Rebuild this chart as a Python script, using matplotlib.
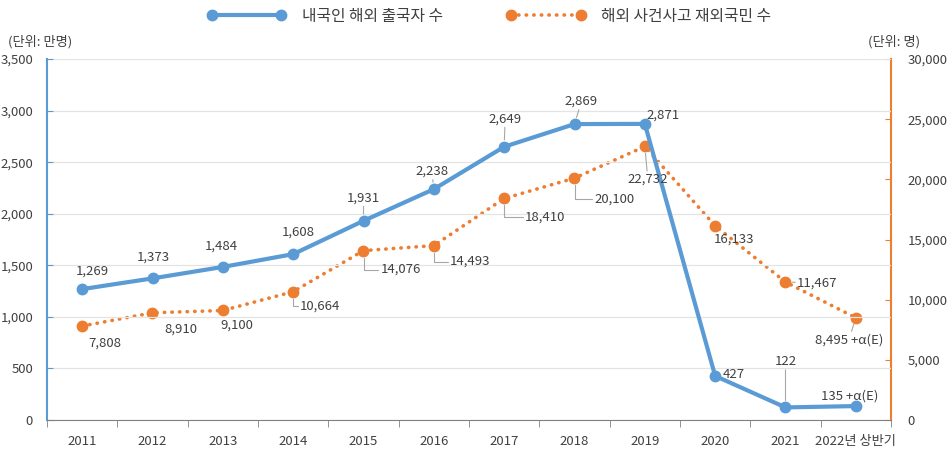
import matplotlib
matplotlib.use("Agg")
import matplotlib.pyplot as plt
import numpy as np

plt.rcParams['font.family'] = ['Noto Sans CJK KR', 'DejaVu Sans']

# data
years = ['2011', '2012', '2013', '2014', '2015', '2016', '2017', '2018',
         '2019', '2020', '2021', '2022년 상반기']
departures = [1269, 1373, 1484, 1608, 1931, 2238, 2649, 2869, 2871, 427, 122, 135]
incidents = [7808, 8910, 9100, 10664, 14076, 14493, 18410, 20100, 22732, 16133, 11467, 8495]
dep_labels = ['1,269', '1,373', '1,484', '1,608', '1,931', '2,238', '2,649', '2,869',
              '2,871', '427', '122', '135 +α(E)']
inc_labels = ['7,808', '8,910', '9,100', '10,664', '14,076', '14,493', '18,410', '20,100',
              '22,732', '16,133', '11,467', '8,495 +α(E)']

# label offsets in pixels (dx, dy); leader: None, 'line' or 'elbow'
dep_off = [(10, 18), (1, 21), (-1, 21), (5, 22), (0, 23), (-2, 18), (1, 28), (7, 23),
           (18, 9), (19, 1), (0, 46), (-6, 10)]
dep_lead = [None, None, None, None, 'line', 'line', 'line', 'line', None, None, 'line', None]
inc_off = [(23, -17), (28, -16), (14, -15), (27, -14), (37, -19), (36, -16), (41, -19),
           (40, -21), (3, -33), (19, -13), (32, -1), (-7, -22)]
inc_lead = [None, None, None, 'elbow', 'elbow', 'elbow', 'elbow', 'elbow', 'line', None,
            'line', 'line']

blue = '#5B9BD5'
orange = '#ED7D31'
txt = '#404040'

fig = plt.figure(figsize=(9.48, 4.49), dpi=100)
ax = fig.add_axes([47/948, 29/449, 844/948, 361/449])
ax2 = ax.twinx()
ax.set_zorder(2)
ax.patch.set_visible(False)

x = np.arange(len(years))

ax2.plot(x, incidents, color=orange, lw=2.6, linestyle=(0, (0.1, 2.0)),
         dash_capstyle='round', marker='o', markersize=7.5, label='해외 사건사고 재외국민 수')
ax.plot(x, departures, color=blue, lw=3, marker='o', markersize=7.5,
        label='내국인 해외 출국자 수')

ax.set_xlim(-0.5, len(years) - 0.5)
ax.set_ylim(0, 3500)
ax2.set_ylim(0, 30000)
ax.set_yticks(np.arange(0, 3501, 500))
ax2.set_yticks(np.arange(0, 30001, 5000))
ax.set_yticklabels([f'{v:,}' for v in range(0, 3501, 500)])
ax2.set_yticklabels([f'{v:,}' for v in range(0, 30001, 5000)])
ax.grid(axis='y', color='#E4E4E4', lw=0.9)
ax.set_axisbelow(True)

ax.set_xticks(x)
ax.set_xticklabels(years)
ax.set_xticks(np.arange(-0.5, len(years)), minor=True)
ax.tick_params(axis='x', which='major', length=0, pad=11, labelsize=9.5, labelcolor=txt)
ax.tick_params(axis='x', which='minor', length=5, color='#808080', direction='out')
ax.tick_params(axis='y', length=4, direction='in', color=blue, labelsize=9.5,
               labelcolor=txt, pad=10)
ax2.tick_params(axis='y', length=4, direction='in', color=orange, labelsize=9.5,
                labelcolor=txt, pad=12)

for sp in ['top', 'right']:
    ax.spines[sp].set_visible(False)
for sp in ['top', 'left', 'bottom']:
    ax2.spines[sp].set_visible(False)
ax.spines['left'].set_color(blue)
ax.spines['left'].set_linewidth(1.5)
ax.spines['bottom'].set_color('#808080')
ax2.spines['right'].set_color(orange)
ax2.spines['right'].set_linewidth(1.5)

box = dict(boxstyle='square,pad=0.15', fc='none', ec='none')


def leader(kind):
    if kind is None:
        return None
    if kind == 'elbow':
        return dict(arrowstyle='-', color='#A6A6A6', lw=0.8, shrinkA=0, shrinkB=5,
                    relpos=(0, 0.5), connectionstyle='angle,angleA=0,angleB=90,rad=0')
    return dict(arrowstyle='-', color='#A6A6A6', lw=0.8, shrinkA=0, shrinkB=5)


for i in range(len(x)):
    ax.annotate(dep_labels[i], (x[i], departures[i]), xytext=dep_off[i],
                textcoords='offset pixels', ha='center', va='center', fontsize=9.5,
                color=txt, bbox=box, arrowprops=leader(dep_lead[i]), zorder=5)
    ax.annotate(inc_labels[i], (x[i], incidents[i]), xycoords=ax2.transData,
                xytext=inc_off[i], textcoords='offset pixels', ha='center', va='center',
                fontsize=9.5, color=txt, bbox=box, arrowprops=leader(inc_lead[i]), zorder=5)

fig.text(8/948, 1 - 42/449, '(단위: 만명)', fontsize=9.5, color=txt, va='center')
fig.text(920/948, 1 - 42/449, '(단위: 명)', fontsize=9.5, color=txt, va='center', ha='right')

h1, l1 = ax.get_legend_handles_labels()
h2, l2 = ax2.get_legend_handles_labels()
fig.legend(h1 + h2, l1 + l2, loc='center', bbox_to_anchor=(0.516, 1 - 16/449), ncol=2,
           frameon=False, fontsize=11.4, handlelength=5.0, handletextpad=1.0,
           columnspacing=4, numpoints=2, labelcolor=txt)

fig.savefig('out.png', dpi=100)
